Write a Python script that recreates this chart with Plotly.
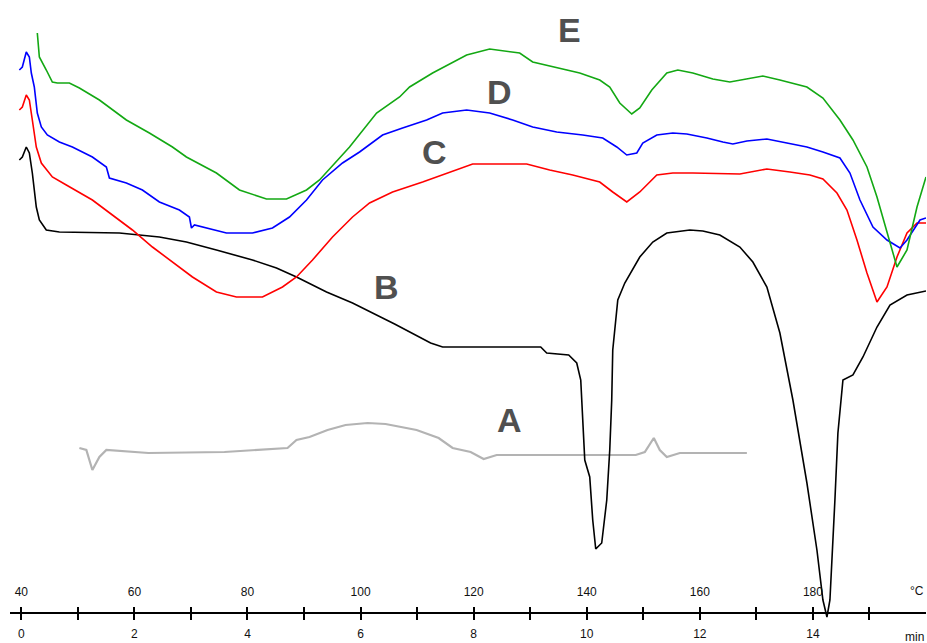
import plotly.graph_objects as go

# ---- data (time in min, signal in arbitrary units) ----
time_ticks = [0, 2, 4, 6, 8, 10, 12, 14]
time_labels = ["0", "2", "4", "6", "8", "10", "12", "14"]
temp_labels = ["40", "60", "80", "100", "120", "140", "160", "180"]
minor_ticks = [1, 3, 5, 7, 9, 11, 13, 15]

a_t = [1.027, 1.150, 1.257, 1.381, 1.504, 2.248, 3.593, 4.708, 4.867, 5.097, 5.416, 5.735,
       6.124, 6.442, 6.991, 7.381, 7.628, 7.947, 8.177, 8.407, 10.867, 11.027, 11.186,
       11.292, 11.416, 11.646, 12.832]
a_v = [165, 163, 143, 156, 163, 160, 161, 165, 173, 176, 183, 188,
       190, 189, 183, 175, 165, 161, 154, 158, 158, 161, 175,
       163, 156, 160, 160]

b_t = [-0.035, 0.018, 0.088, 0.142, 0.195, 0.265, 0.319, 0.442, 0.673, 1.735, 2.442, 2.920,
       3.451, 4.088, 4.513, 4.867, 5.398, 5.858, 6.389, 6.602, 7.239, 7.451, 9.186, 9.292,
       9.681, 9.823, 9.894, 9.929, 9.965, 10.053, 10.106, 10.159, 10.265, 10.354, 10.407,
       10.442, 10.460, 10.549, 10.673, 10.938, 11.168, 11.416, 11.823, 12.053, 12.354,
       12.708, 12.938, 13.186, 13.416, 13.646, 13.894, 14.071, 14.177, 14.248, 14.301,
       14.389, 14.442, 14.531, 14.708, 14.885, 15.133, 15.363, 15.664, 16.0]
b_v = [453, 456, 466, 460, 440, 406, 393, 383, 381, 380, 376, 371,
       363, 353, 345, 336, 321, 310, 295, 289, 270, 266, 266, 260,
       258, 250, 233, 196, 153, 136, 93, 64, 70, 113, 163,
       213, 263, 313, 330, 356, 371, 380, 383, 382, 378,
       366, 351, 326, 280, 213, 130, 63, 13, -4, 13,
       113, 180, 233, 238, 256, 286, 308, 318, 322]

c_t = [-0.035, 0.018, 0.088, 0.142, 0.195, 0.265, 0.354, 0.549, 0.796, 1.257, 1.611, 1.965,
       2.319, 2.743, 3.027, 3.451, 3.805, 4.265, 4.619, 4.867, 5.150, 5.504, 5.858, 6.159,
       6.566, 7.097, 7.575, 7.982, 8.938, 9.345, 9.752, 10.230, 10.460, 10.708, 10.938,
       11.239, 11.522, 11.876, 12.708, 13.186, 13.593, 13.947, 14.177, 14.425, 14.602,
       14.779, 14.956, 15.133, 15.310, 15.487, 15.664, 15.841, 16.0]
c_v = [503, 506, 518, 513, 493, 466, 450, 436, 428, 413, 398, 383,
       366, 348, 336, 321, 316, 316, 326, 336, 353, 376, 396, 410,
       421, 431, 441, 449, 449, 443, 438, 431, 421, 411, 421,
       438, 440, 440, 439, 444, 441, 438, 434, 420, 403,
       373, 340, 311, 326, 356, 380, 390, 390]

d_t = [-0.035, 0.018, 0.088, 0.142, 0.177, 0.230, 0.283, 0.354, 0.460, 0.673, 0.903, 1.257,
       1.504, 1.558, 1.858, 2.142, 2.442, 2.796, 2.973, 3.009, 3.062, 3.274, 3.628, 4.088,
       4.442, 4.743, 5.044, 5.327, 5.681, 5.982, 6.389, 6.743, 7.168, 7.451, 7.876, 8.283,
       8.690, 9.044, 9.469, 9.929, 10.283, 10.531, 10.708, 10.885, 10.991, 11.239, 11.522,
       11.770, 12.124, 12.407, 12.584, 12.832, 13.186, 13.540, 13.894, 14.177, 14.478,
       14.655, 14.832, 15.062, 15.310, 15.540, 15.664, 15.894, 16.0]
d_v = [543, 546, 561, 556, 540, 526, 500, 486, 478, 471, 466, 456,
       446, 435, 430, 423, 411, 403, 396, 385, 388, 385, 380, 380,
       385, 396, 413, 433, 450, 461, 478, 485, 493, 500, 503, 500,
       493, 486, 481, 478, 475, 466, 458, 460, 470, 478, 480,
       479, 475, 471, 469, 472, 474, 470, 466, 461, 455,
       440, 413, 386, 373, 365, 373, 393, 395]

e_t = [0.283, 0.319, 0.442, 0.549, 0.637, 0.850, 1.027, 1.381, 1.858, 2.265, 2.673, 2.920,
       3.451, 3.858, 4.336, 4.690, 5.044, 5.274, 5.805, 6.283, 6.690, 6.867, 7.274, 7.876,
       8.283, 8.584, 8.814, 9.044, 9.469, 9.876, 10.230, 10.407, 10.584, 10.796, 10.938,
       11.150, 11.416, 11.611, 11.876, 12.230, 12.531, 12.832, 13.115, 13.416, 13.894,
       14.177, 14.478, 14.708, 14.956, 15.133, 15.310, 15.487, 15.664, 15.841, 16.0]
e_v = [580, 556, 543, 531, 530, 530, 525, 513, 493, 480, 466, 456,
       440, 423, 414, 414, 423, 433, 466, 500, 516, 526, 540, 558,
       564, 562, 560, 551, 545, 540, 533, 526, 510, 499, 505,
       523, 540, 543, 540, 534, 531, 534, 537, 533, 526,
       515, 493, 473, 446, 416, 380, 346, 363, 406, 436]

curve_names = ["A", "B", "C", "D", "E"]
label_t = [8.637, 6.460, 7.310, 8.460, 9.699]
label_v = [193, 326, 461, 521, 583]

# ---- figure ----
series = [
    ("A", a_t, a_v, "#b3b3b3", 2.2),
    ("B", b_t, b_v, "#000000", 1.6),
    ("C", c_t, c_v, "#ff0000", 1.6),
    ("D", d_t, d_v, "#0000ff", 1.6),
    ("E", e_t, e_v, "#13a813", 1.6),
]

fig = go.Figure()
for name, t, v, col, w in series:
    fig.add_trace(go.Scatter(x=t, y=v, mode="lines", name=name,
                             line=dict(color=col, width=w), showlegend=False))

# invisible trace to activate the temperature axis
fig.add_trace(go.Scatter(x=[0], y=[0], xaxis="x2", mode="markers",
                         marker=dict(opacity=0), showlegend=False, hoverinfo="skip"))

for name, lt, lv in zip(curve_names, label_t, label_v):
    fig.add_annotation(x=lt, y=lv, text="<b>%s</b>" % name, showarrow=False,
                       font=dict(family="Liberation Sans", size=34, color="#505050"))

axis_pos = 30 / 643
tick_font = dict(family="Liberation Sans", size=12, color="#111111")
x_range = [-0.2, 16.0]

fig.update_layout(
    width=927, height=643,
    margin=dict(l=10, r=1, t=0, b=0),
    paper_bgcolor="white", plot_bgcolor="white",
    xaxis=dict(range=x_range, anchor="free", position=axis_pos,
               showgrid=False, zeroline=False, showline=True, linecolor="black", linewidth=2,
               tickmode="array", tickvals=time_ticks, ticktext=time_labels,
               ticks="outside", ticklen=6, tickwidth=1.5, tickcolor="black",
               minor=dict(tickvals=minor_ticks, ticks="outside", ticklen=6,
                          tickwidth=1.5, tickcolor="black"),
               tickfont=tick_font, ticklabelstandoff=4, automargin=False),
    xaxis2=dict(range=x_range, overlaying="x", anchor="free", position=axis_pos,
                side="bottom", showgrid=False, zeroline=False, showline=False,
                tickmode="array", tickvals=time_ticks, ticktext=temp_labels,
                ticks="inside", ticklen=6, tickwidth=1.5, tickcolor="black",
                minor=dict(tickvals=minor_ticks, ticks="inside", ticklen=6,
                           tickwidth=1.5, tickcolor="black"),
                ticklabelposition="inside", ticklabelstandoff=8,
                tickfont=tick_font, automargin=False),
    yaxis=dict(range=[-30, 613], visible=False, showgrid=False, zeroline=False),
)

fig.add_annotation(x=16.0, y=22, text="°C", showarrow=False, xanchor="right",
                   font=tick_font)
fig.add_annotation(x=16.0, y=-24, text="min", showarrow=False, xanchor="right",
                   font=tick_font)

fig.write_html("out.html", config={"displayModeBar": False},
               post_script="document.body.style.margin='0';")
